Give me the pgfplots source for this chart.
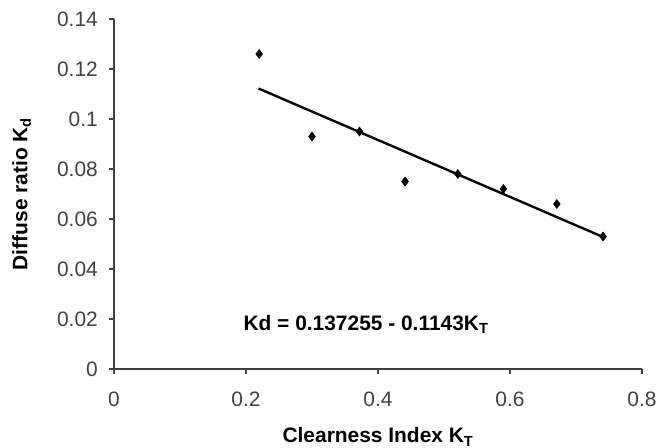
\documentclass[border=0pt]{standalone}
\usepackage{pgfplots}
\pgfplotsset{compat=1.18}
\usepackage{fontspec}
\setmainfont{Liberation Sans}
\definecolor{axgray}{RGB}{64,64,64}
\begin{document}
\fontsize{21}{24}\selectfont
\begin{tikzpicture}
\useasboundingbox (-114bp,-79bp) rectangle (546bp,369bp);
\begin{axis}[
    scale only axis,
    width=528bp, height=350bp,
    xmin=0, xmax=0.8, ymin=0, ymax=0.14,
    xtick={0,0.2,0.4,0.6,0.8},
    ytick={0,0.02,0.04,0.06,0.08,0.1,0.12,0.14},
    axis lines*=left,
    axis line style={axgray, line width=1.5pt, -},
    tick style={axgray, line width=1.2pt},
    tick align=outside,
    major tick length=5bp,
    /pgf/number format/assume math mode=true,
    /pgf/number format/fixed,
    /pgf/number format/precision=2,
    ticklabel style={font=\fontsize{21}{24}\selectfont, text=axgray},
    yticklabel style={xshift=-4bp},
    xticklabel style={yshift=-11bp},
    xlabel={\bfseries Clearness Index K\textsubscript{T}},
    ylabel={\bfseries Diffuse ratio K\textsubscript{d}},
    xlabel style={at={(axis description cs:0.5,-0.194)}, anchor=center, font=\fontsize{21}{24}\selectfont},
    ylabel style={at={(axis description cs:-0.175,0.5)}, anchor=center, rotate=0, font=\fontsize{21}{24}\selectfont},
    clip=false,
]
% measured points
\addplot[only marks, mark=diamond*, mark size=4.6bp, black] coordinates {
    (0.22,0.126) (0.30,0.093) (0.372,0.095) (0.441,0.075)
    (0.521,0.078) (0.59,0.072) (0.671,0.066) (0.741,0.053)
};
% regression line
\addplot[black, line width=2.4pt, no marks] coordinates {
    (0.219,0.1122) (0.741,0.0528)
};
\node[anchor=west, inner sep=0pt, font=\bfseries\fontsize{21}{24}\selectfont] at (axis cs:0.196,0.0178)
    {Kd = 0.137255 - 0.1143K\textsubscript{T}};
\end{axis}
\end{tikzpicture}
\end{document}
